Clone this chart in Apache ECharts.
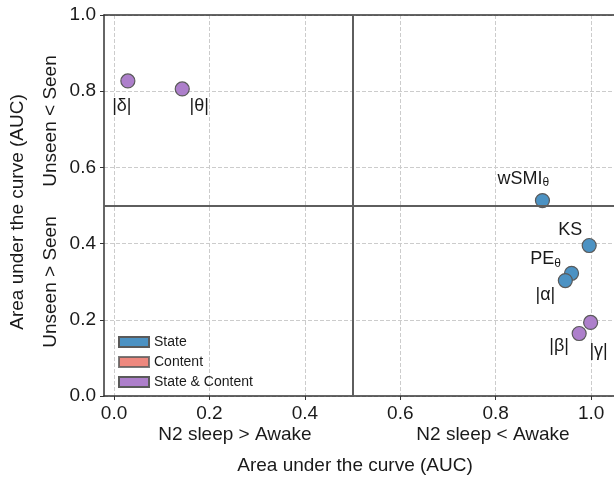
<!DOCTYPE html>
<html>
<head>
<meta charset="utf-8">
<script src="https://cdn.jsdelivr.net/npm/echarts@6/dist/echarts.min.js"></script>
<style>
  html, body { margin: 0; padding: 0; background: #fff; }
  #chart { width: 614px; height: 481px; }
</style>
</head>
<body>
<div id="chart"></div>
<script>
// AUC values
var stateNames = ['wSMI{sub|θ}', 'KS', 'PE{sub|θ}', '|α|'];
var stateX = [0.898, 0.996, 0.959, 0.946];
var stateY = [0.513, 0.395, 0.322, 0.303];

var comboNames = ['|δ|', '|θ|', '|β|', '|γ|'];
var comboX = [0.029, 0.143, 0.975, 0.999];
var comboY = [0.827, 0.806, 0.164, 0.193];

var tickValues = [0, 0.2, 0.4, 0.6, 0.8, 1.0];

// label offsets (px) from the point centre
var stateOffsets = [[-19, -22], [-19, -15], [-26, -14], [-20, 14]];
var comboOffsets = [[-6, 25], [17, 17], [-20, 13], [8, 29]];

var FONT = 'Liberation Sans';

function points(names, xs, ys, offs) {
    return names.map(function (n, i) {
        return {
            name: n,
            value: [xs[i], ys[i]],
            label: { offset: offs[i] }
        };
    });
}

var pointLabel = {
    show: true,
    position: 'inside',
    fontFamily: FONT,
    fontSize: 18,
    color: '#1a1a1a',
    formatter: '{b}',
    rich: {
        sub: { fontSize: 12, fontFamily: FONT, color: '#1a1a1a', padding: [9, 0, 0, 0] }
    }
};

var chart = echarts.init(document.getElementById('chart'));
chart.setOption({
    animation: false,
    textStyle: { fontFamily: FONT },
    grid: { left: 104, right: -2, top: 15, bottom: 85 },
    legend: {
        data: ['State', 'Content', 'State & Content'],
        orient: 'vertical',
        left: 113,
        top: 330,
        icon: 'rect',
        itemWidth: 30,
        itemHeight: 10,
        itemGap: 6,
        textStyle: { fontFamily: FONT, fontSize: 14, color: '#1a1a1a' }
    },
    xAxis: [{
        type: 'value',
        min: -0.021,
        max: 1.048,
        axisLine: { onZero: false, lineStyle: { color: '#333', width: 1.5 } },
        axisTick: { customValues: tickValues, length: 4, lineStyle: { color: '#333' } },
        axisLabel: {
            customValues: tickValues,
            formatter: function (v) { return v.toFixed(1); },
            fontSize: 19, color: '#1a1a1a', margin: 8
        },
        splitLine: { show: true, lineStyle: { type: 'dashed', color: '#ccc' } }
    }, {
        type: 'value',
        position: 'top',
        min: -0.021,
        max: 1.048,
        axisLine: { show: true, onZero: false, lineStyle: { color: '#333', width: 1.5 } },
        axisTick: { show: false },
        axisLabel: { show: false },
        splitLine: { show: false }
    }],
    yAxis: {
        type: 'value',
        min: 0,
        max: 1,
        interval: 0.2,
        axisLine: { show: true, onZero: false, lineStyle: { color: '#333', width: 1.5 } },
        axisTick: { show: true, length: 4, lineStyle: { color: '#333' } },
        axisLabel: {
            formatter: function (v) { return v.toFixed(1); },
            fontSize: 19, color: '#1a1a1a', margin: 8
        },
        splitLine: { show: true, lineStyle: { type: 'dashed', color: '#ccc' } }
    },
    graphic: [
        { type: 'text', x: 18, y: 212, rotation: Math.PI / 2,
          style: { text: 'Area under the curve (AUC)', fontFamily: FONT, fontSize: 19, fill: '#1a1a1a', align: 'center', verticalAlign: 'middle' } },
        { type: 'text', x: 51, y: 121, rotation: Math.PI / 2,
          style: { text: 'Unseen < Seen', fontFamily: FONT, fontSize: 19, fill: '#1a1a1a', align: 'center', verticalAlign: 'middle' } },
        { type: 'text', x: 51, y: 282, rotation: Math.PI / 2,
          style: { text: 'Unseen > Seen', fontFamily: FONT, fontSize: 19, fill: '#1a1a1a', align: 'center', verticalAlign: 'middle' } },
        { type: 'text', x: 235, y: 435,
          style: { text: 'N2 sleep > Awake', fontFamily: FONT, fontSize: 19, fill: '#1a1a1a', align: 'center', verticalAlign: 'middle' } },
        { type: 'text', x: 493, y: 435,
          style: { text: 'N2 sleep < Awake', fontFamily: FONT, fontSize: 19, fill: '#1a1a1a', align: 'center', verticalAlign: 'middle' } },
        { type: 'text', x: 355, y: 466,
          style: { text: 'Area under the curve (AUC)', fontFamily: FONT, fontSize: 19, fill: '#1a1a1a', align: 'center', verticalAlign: 'middle' } }
    ],
    series: [{
        name: 'State',
        type: 'scatter',
        symbolSize: 14,
        itemStyle: { color: '#4c92c3', borderColor: '#5a5a5a', borderWidth: 1.2, opacity: 1 },
        label: pointLabel,
        data: points(stateNames, stateX, stateY, stateOffsets),
        markLine: {
            silent: true,
            symbol: 'none',
            label: { show: false },
            lineStyle: { color: '#5e5e5e', width: 2, type: 'solid' },
            data: [{ xAxis: 0.5 }, { yAxis: 0.5 }]
        },
        z: 3
    }, {
        name: 'Content',
        type: 'scatter',
        symbolSize: 14,
        itemStyle: { color: '#ea6a5e', borderColor: '#5a5a5a', borderWidth: 1.2 },
        data: []
    }, {
        name: 'State & Content',
        type: 'scatter',
        symbolSize: 14,
        itemStyle: { color: '#ad7fcb', borderColor: '#5a5a5a', borderWidth: 1.2, opacity: 1 },
        label: pointLabel,
        data: points(comboNames, comboX, comboY, comboOffsets),
        z: 3
    }]
});
</script>
</body>
</html>
